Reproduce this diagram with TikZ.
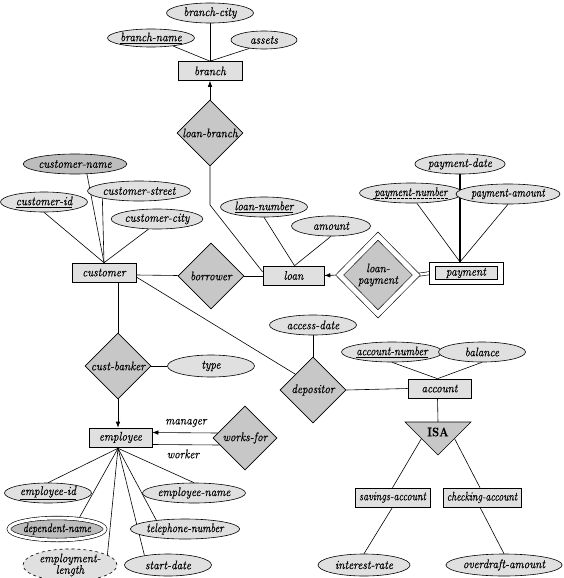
\documentclass[tikz,border=0pt]{standalone}
\usepackage{fontspec}
\setmainfont{Latin Modern Roman}[FakeStretch=0.9, FakeBold=0.25]
\usepackage{graphicx}
\usetikzlibrary{shapes.geometric,arrows.meta,calc}
\definecolor{attrfill}{gray}{0.88}
\definecolor{relfill}{gray}{0.78}
\definecolor{darkattr}{gray}{0.74}
\pgfdeclarelayer{background}
\pgfsetlayers{background,main}
\newcommand\hsq[2]{\scalebox{#1}[1]{#2}}
\begin{document}
\begin{tikzpicture}[x=1pt,y=-1pt,
  font=\fontsize{12.5}{11.5}\selectfont\itshape,
  every node/.style={line width=0.6pt},
  attr/.style={ellipse, draw, fill=attrfill, minimum width=87pt, minimum height=20pt, inner sep=0pt},
  ent/.style={rectangle, draw, fill=attrfill, minimum width=64pt, minimum height=19pt, inner sep=0pt},
  rel/.style={diamond, draw, fill=relfill, minimum width=66pt, minimum height=66pt, inner sep=0pt},
  conn/.style={draw, line width=0.6pt},
  arr/.style={conn, -{Latex[length=6pt,width=4.5pt]}},
  lbl/.style={inner sep=1pt}
]
\useasboundingbox (0,0) rectangle (564,578);

% branch
\node[attr] (bcity) at (210,13) {branch-city};
\node[attr, minimum height=18pt] (bname) at (151,38) {\underline{branch-name}};
\node[attr, minimum width=66pt, minimum height=18pt] (assets) at (264,40) {assets};
\node[ent] (branch) at (210,71) {branch};
\node[rel] (loanbranch) at (210,133) {\makebox[0pt]{loan-branch}};

% customer
\node[attr, fill=darkattr] (cname) at (75,164) {customer-name};
\node[attr] (cstreet) at (139,191) {customer-street};
\node[attr] (cid) at (44,202) {\underline{customer-id}};
\node[attr] (ccity) at (157,219) {customer-city};
\node[ent] (customer) at (104,272.5) {customer};
\node[rel] (borrower) at (211,276) {\makebox[0pt]{borrower}};

% loan
\node[attr] (lnum) at (264,207) {\underline{loan-number}};
\node[attr, minimum width=79pt] (amount) at (331,226) {amount};
\node[ent, minimum width=61pt] (loan) at (293.5,275.5) {loan};
\node[rel, minimum width=77pt, minimum height=78pt, double=white, double distance=5pt, align=center] (lpay) at (378,275) {loan-\\payment};

% payment (weak entity: outer frame + inner box)
\path[draw, fill=white, line width=0.6pt] (429,262) rectangle (503,284);
\node[ent, minimum width=62pt, minimum height=13.5pt] (payment) at (466,273) {payment};
\node[attr] (pdate) at (460,164) {payment-date};
\node[attr] (pnum) at (411,193) {\hsq{0.92}{payment-number}};
\node[attr] (pamt) at (508,194) {\hsq{0.92}{payment-amount}};
\draw[line width=0.6pt, dash pattern=on 2.5pt off 1.5pt] ([shift={(-38,5.5)}]pnum.center) -- ([shift={(38,5.5)}]pnum.center);

% depositor / account
\node[attr] (adate) at (313,325) {access-date};
\node[rel] (depositor) at (313,390) {\makebox[0pt]{depositor}};
\node[ent, minimum width=63pt] (account) at (439.5,388.5) {account};
\node[attr] (anum) at (392,352) {\hsq{0.95}{\underline{account-number}}};
\node[attr] (balance) at (482,352) {balance};

% ISA
\coordinate (isatl) at (405,422);
\coordinate (isatr) at (471,422);
\coordinate (isab) at (438,455);
\coordinate (isatop) at (438,422);
\coordinate (isaL) at (421.5,438.5);
\coordinate (isaR) at (454.5,438.5);
\filldraw[fill=relfill, line width=0.6pt] (isatl) -- (isatr) -- (isab) -- cycle;
\node[font=\fontsize{12.5}{12}\selectfont\bfseries\upshape] (isa) at (438,432) {ISA};
\node[ent, minimum width=75pt] (savings) at (392.5,497.5) {\hsq{0.9}{savings-account}};
\node[ent, minimum width=78pt] (checking) at (482,497.5) {\hsq{0.88}{checking-account}};
\node[attr, minimum width=92pt, minimum height=22pt] (irate) at (364,565) {interest-rate};
\node[attr, minimum width=98pt, minimum height=22pt] (overdraft) at (504,565) {overdraft-amount};

% cust-banker / employee
\node[rel] (custbanker) at (118,366) {\makebox[0pt]{cust-banker}};
\node[attr, minimum height=22pt] (type) at (211,366) {type};
\node[ent, minimum width=63pt] (employee) at (120.5,437.5) {employee};
\node[rel, minimum width=64pt, minimum height=64pt] (worksfor) at (245,438) {\makebox[0pt]{works-for}};
\node[lbl] (managerlbl) at (186,423) {manager};
\node[lbl] (workerlbl) at (183,454) {worker};

\node[attr] (eid) at (48,493) {\underline{employee-id}};
\node[attr, minimum width=83pt, minimum height=22pt, double=white, double distance=3pt, fill=darkattr] (dname) at (57,529) {\hsq{0.88}{dependent-name}};
\node[attr, dashed, minimum width=94pt, minimum height=25pt, align=center] (elength) at (70,565) {employment-\\length};
\node[attr, minimum height=22pt] (sdate) at (168,565) {start-date};
\node[attr] (tel) at (185,529) {\hsq{0.92}{telephone-number}};
\node[attr] (ename) at (194,493) {employee-name};

\begin{pgfonlayer}{background}
  % branch
  \draw[conn] (bcity.south) -- (branch.north);
  \draw[conn] (bname.340) -- (branch.north);
  \draw[conn] (assets.210) -- (branch.north);
  \draw[arr] (loanbranch.north) -- (branch.south);
  \coordinate (lbbend) at (210,205);
  \draw[conn] (loanbranch.south) -- (lbbend) -- ([shift={(0,-3.5)}]loan.west);
  % customer
  \draw[conn] (cname.320) -- (customer.north);
  \draw[conn] (cstreet.south west) -- (customer.north);
  \draw[conn] (cid.south) -- (customer.north);
  \draw[conn] (ccity.230) -- (customer.north);
  \draw[conn] ([shift={(0,2.5)}]customer.east) -- ([shift={(0,-0.5)}]borrower.west);
  \draw[conn] (borrower.east) -- (borrower.east -| loan.west);
  \draw[conn] ([shift={(0,4.5)}]customer.east) -- ([shift={(0,-5)}]depositor.center);
  % loan
  \draw[conn] (lnum.south) -- ([shift={(1,0)}]loan.north);
  \draw[conn] (amount.south) -- ([shift={(1,0)}]loan.north);
  \draw[arr] (lpay.west) -- (loan.east);
  \draw[conn, double=white, double distance=2.5pt] (lpay.east) -- ([shift={(-4,0)}]payment.west);
  % payment
  \coordinate (ptop) at ([shift={(-6,-4)}]payment.north);
  \draw[line width=1.1pt] (pdate.south) -- (ptop);
  \draw[conn] (pnum.300) -- (ptop);
  \draw[conn] (pamt.south) -- (ptop);
  % depositor
  \draw[conn] (adate.south) -- (depositor.north);
  \draw[conn] (depositor.east) -- (account.west);
  \draw[conn] (anum.south) -- ([shift={(-2,0)}]account.north);
  \draw[conn] (balance.south) -- ([shift={(-2,0)}]account.north);
  \draw[conn] ([shift={(-2,0)}]account.south) -- (isatop);
  \draw[conn] (isaL) -- (savings.north);
  \draw[conn] (isaR) -- ([shift={(-2,0)}]checking.north);
  \draw[conn] (savings.south) -- (irate.north);
  \draw[conn] ([shift={(-2,0)}]checking.south) -- (overdraft.north);
  % cust-banker
  \draw[conn] (custbanker.north |- customer.south) -- (custbanker.north);
  \draw[conn] (custbanker.east) -- (type.west);
  \draw[arr] (custbanker.south) -- (custbanker.south |- employee.north);
  \draw[arr] ([shift={(5,-5)}]worksfor.west) -- ([shift={(0,-5)}]employee.east);
  \draw[conn] ([shift={(7,7)}]worksfor.west) -- ([shift={(0,7)}]employee.east);
  % employee attributes
  \coordinate (eb) at ([shift={(-2.5,1)}]employee.south);
  \draw[conn] (eid.north) -- (eb);
  \draw[conn] (dname.25) -- (eb);
  \draw[conn] (elength.15) -- (eb);
  \draw[conn] (sdate.158) -- (eb);
  \draw[conn] (tel.163) -- (eb);
  \draw[conn] (ename.north) -- (eb);
\end{pgfonlayer}
\end{tikzpicture}
\end{document}
